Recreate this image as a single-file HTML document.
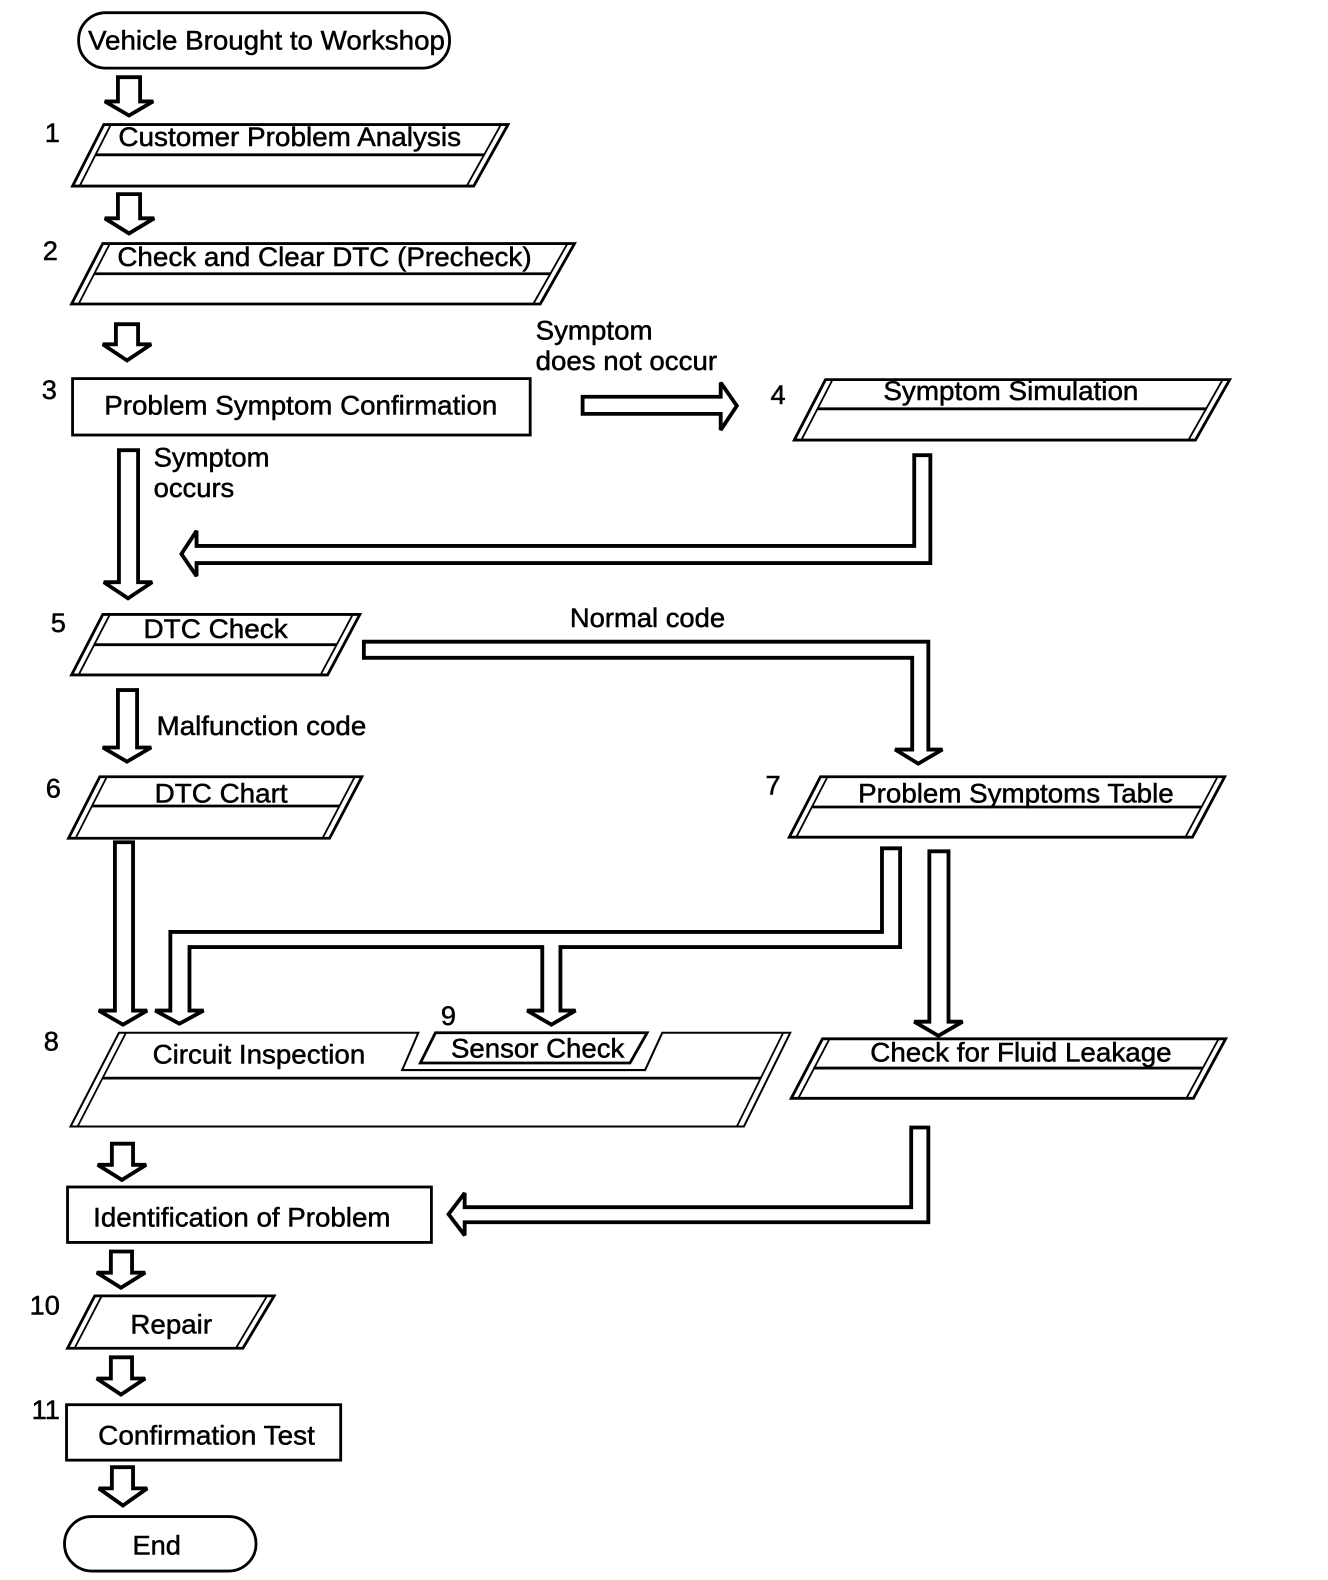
<!DOCTYPE html>
<html>
<head>
<meta charset="utf-8">
<style>
html,body{margin:0;padding:0;background:#fff}
svg{display:block}
text{font-family:"Liberation Sans",sans-serif;font-size:27px;fill:#000;stroke:#000;stroke-width:.5}
.a{fill:#fff;stroke:#000;stroke-width:3.8;stroke-linejoin:miter;stroke-miterlimit:3}
.s{fill:#fff;stroke:#000;stroke-width:2.8;stroke-linejoin:miter}
.l{fill:none;stroke:#000;stroke-width:2.8}
.t{fill:none;stroke:#000;stroke-width:1.8}
</style>
</head>
<body>
<svg width="1328" height="1580" viewBox="0.5 0.4 1316.5 1567.5" xmlns="http://www.w3.org/2000/svg">
<rect width="1328" height="1580" fill="#fff"/>

<!-- Boxes -->
<rect class="s" x="78" y="13" width="368" height="55" rx="27" ry="27"/>

<polygon class="s" points="72,185 103,124 504,124 470,185"/>
<path class="t" d="M79,185L110,124M497,124L463,185"/><path class="l" d="M95,154H480"/>

<polygon class="s" points="71,302 102,242 570,242 536,302"/>
<path class="t" d="M78,302L109,242M563,242L529,302"/><path class="l" d="M94,272H546"/>

<rect class="s" x="72" y="376" width="454" height="56"/>

<polygon class="s" points="788,437 819,377 1220,377 1186,437"/>
<path class="t" d="M795,437L826,377M1213,377L1179,437"/><path class="l" d="M811,406H1197"/>

<polygon class="s" points="71,670 102,610 357,610 325,670"/>
<path class="t" d="M78,670L109,610M350,610L318,670"/><path class="l" d="M93,640H334"/>

<polygon class="s" points="68,832 99,771 359,771 327,832"/>
<path class="t" d="M75,832L106,771M352,771L320,832"/><path class="l" d="M91,800H337"/>

<polygon class="s" points="783,831 814,771 1215,771 1183,831"/>
<path class="t" d="M790,831L821,771M1208,771L1176,831"/><path class="l" d="M806,801H1192"/>

<polygon class="s" points="70,1118 118,1025 415,1025 399,1062 640,1062 657,1025 784,1025 738,1118" style="stroke-width:2"/>
<path class="t" d="M77,1118L125,1025M777,1025L731,1118"/><path class="l" d="M102,1070H755"/>
<polygon class="s" points="417,1055 432,1025 642,1025 625,1055"/>

<polygon class="s" points="785,1090 816,1031 1216,1031 1184,1090"/>
<path class="t" d="M792,1090L823,1031M1209,1031L1177,1090"/><path class="l" d="M807,1060H1193"/>

<rect class="s" x="67" y="1178" width="361" height="55"/>

<polygon class="s" points="67,1338 94,1286 272,1286 241,1338"/>
<path class="t" d="M74,1338L101,1286M265,1286L234,1338"/>

<rect class="s" x="66" y="1394" width="272" height="55"/>
<rect class="s" x="64" y="1505" width="190" height="54" rx="27" ry="27"/>

<!-- Arrows -->
<polygon class="a" points="117,77 139,77 139,101 152,101 128,115 104,101 117,101"/>
<polygon class="a" points="117,193 139,193 139,217 153,217 128,232 104,217 117,217"/>
<polygon class="a" points="115,322 137,322 137,342 150,342 126,358 102,342 115,342"/>
<polygon class="a" points="578,394 715,394 715,380 731,403 715,427 715,411 578,411"/>
<polygon class="a" points="118,447 137,447 137,578 151,578 127,594 103,578 118,578"/>
<polygon class="a" points="907,452 923,452 923,559 195,559 195,572 180,550 195,527 195,542 907,542"/>
<polygon class="a" points="361,637 921,637 921,744 935,744 911,758 888,744 905,744 905,653 361,653"/>
<polygon class="a" points="117,685 136,685 136,742 150,742 126,756 102,742 117,742"/>
<polygon class="a" points="114,836 132,836 132,1003 146,1003 122,1017 98,1003 114,1003"/>
<polygon class="a" points="875,842 893,842 893,940 556,940 556,1003 571,1003 547,1017 523,1003 538,1003 538,940 188,940 188,1003 202,1003 178,1016 154,1003 169,1003 169,925 875,925"/>
<polygon class="a" points="922,845 941,845 941,1014 955,1014 931,1028 907,1014 922,1014"/>
<polygon class="a" points="904,1119 921,1119 921,1213 461,1213 461,1226 445,1205 461,1184 461,1198 904,1198"/>
<polygon class="a" points="111,1135 132,1135 132,1156 145,1156 121,1171 97,1156 111,1156"/>
<polygon class="a" points="110,1242 131,1242 131,1263 144,1263 120,1278 96,1263 110,1263"/>
<polygon class="a" points="110,1347 131,1347 131,1368 144,1368 120,1384 96,1368 110,1368"/>
<polygon class="a" points="111,1456 132,1456 132,1477 146,1477 122,1494 98,1477 111,1477"/>

<g transform="translate(-0.6,-0.6)">
<!-- Box labels -->
<text x="88" y="50" textLength="354" lengthAdjust="spacingAndGlyphs">Vehicle Brought to Workshop</text>
<text x="118" y="146" textLength="340" lengthAdjust="spacingAndGlyphs">Customer Problem Analysis</text>
<text x="117" y="265" textLength="411" lengthAdjust="spacingAndGlyphs">Check and Clear DTC (Precheck)</text>
<text x="104" y="412" textLength="390" lengthAdjust="spacingAndGlyphs">Problem Symptom Confirmation</text>
<text x="877" y="398" textLength="253" lengthAdjust="spacingAndGlyphs">Symptom Simulation</text>
<text x="143" y="634" textLength="143" lengthAdjust="spacingAndGlyphs">DTC Check</text>
<text x="154" y="797" textLength="132" lengthAdjust="spacingAndGlyphs">DTC Chart</text>
<text x="852" y="797" textLength="313" lengthAdjust="spacingAndGlyphs">Problem Symptoms Table</text>
<text x="152" y="1056" textLength="211" lengthAdjust="spacingAndGlyphs">Circuit Inspection</text>
<text x="448" y="1050" textLength="172" lengthAdjust="spacingAndGlyphs">Sensor Check</text>
<text x="864" y="1054" textLength="299" lengthAdjust="spacingAndGlyphs">Check for Fluid Leakage</text>
<text x="93" y="1218" textLength="295" lengthAdjust="spacingAndGlyphs">Identification of Problem</text>
<text x="130" y="1324" textLength="81" lengthAdjust="spacingAndGlyphs">Repair</text>
<text x="98" y="1434" textLength="215" lengthAdjust="spacingAndGlyphs">Confirmation Test</text>
<text x="132" y="1543" textLength="48" lengthAdjust="spacingAndGlyphs">End</text>

<!-- Connector labels -->
<text x="532" y="338" textLength="116" lengthAdjust="spacingAndGlyphs">Symptom</text>
<text x="532" y="368" textLength="180" lengthAdjust="spacingAndGlyphs">does not occur</text>
<text x="153" y="464" textLength="115" lengthAdjust="spacingAndGlyphs">Symptom</text>
<text x="153" y="494" textLength="80" lengthAdjust="spacingAndGlyphs">occurs</text>
<text x="566" y="623" textLength="154" lengthAdjust="spacingAndGlyphs">Normal code</text>
<text x="156" y="730" textLength="208" lengthAdjust="spacingAndGlyphs">Malfunction code</text>

<!-- Step numbers -->
<text x="45" y="142">1</text>
<text x="43" y="259">2</text>
<text x="42" y="397">3</text>
<text x="765" y="402">4</text>
<text x="51" y="628">5</text>
<text x="46" y="792">6</text>
<text x="760" y="789">7</text>
<text x="44" y="1043">8</text>
<text x="438" y="1018">9</text>
<text x="30" y="1305">10</text>
<text x="32" y="1409">11</text>
</g>
</svg>
</body>
</html>
